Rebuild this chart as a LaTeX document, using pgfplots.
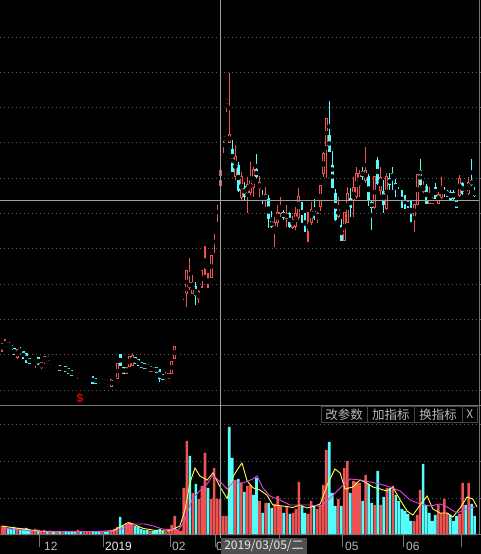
\documentclass[border=0pt]{standalone}
\usepackage{pgfplots}
\pgfplotsset{compat=1.18}
\usepackage{pgfplotstable}
\usepackage{fontspec}
\setmainfont{Liberation Sans}
\newfontfamily\cjk{Noto Sans CJK SC}

\definecolor{upred}{RGB}{238,82,82}
\definecolor{selred}{RGB}{210,95,95}
\definecolor{dncyan}{RGB}{84,252,252}
\definecolor{dojiw}{RGB}{225,225,225}
\definecolor{gridc}{RGB}{95,95,95}
\definecolor{linec}{RGB}{115,115,115}
\definecolor{crossc}{RGB}{160,160,160}
\definecolor{maA}{RGB}{255,255,70}
\definecolor{maB}{RGB}{225,70,225}
\definecolor{txtc}{RGB}{185,185,185}
\definecolor{btnb}{RGB}{72,72,72}
\definecolor{datebox}{RGB}{80,80,80}

\pgfplotsset{
  ebar/.style 2 args={only marks, mark=none, forget plot,
    error bars/y dir=both, error bars/y explicit, error bars/error mark=none,
    error bars/error bar style={line width=#2, draw=#1, solid}},
}

% candles: index, open, high, low, close
\pgfplotstableread{
i o h l c
0 58 63 54 62
1 60 67 59 63
5 49 57 47 56
10 45 47 44 46
11 44 47 38 46
13 39 44 37 43
14 45 49 42 49
16 42 46 41 45
20 37 39 35 38
25 29 33 27 32
27 28 32 27 31
33 23 27 22 25
36 20 27 19 26
37 27 31 26 29
38 28 43 27 42
41 33 39 32 38
42 40 50 39 49
43 41 53 40 50
49 35 40 34 39
54 27 34 26 30
55 28 33 27 32
56 33 45 32 44
57 48 59 47 59
58 76 76 76 76
59 94 94 94 94
60 110 113 106 113
61 113 135 99 135
62 119 148 116 123
63 113 131 112 123
65 108 116 103 114
66 120 136 118 135
67 137 160 131 144
68 122 133 118 127
69 129 151 128 150
70 174 175 153 175
71 203 204 184 204
73 266 269 253 269
74 303 306 294 306
75 264 333 263 271
77 230 261 226 249
79 209 234 206 229
81 213 229 193 221
82 214 244 211 226
83 219 239 209 236
85 218 230 209 223
87 206 219 199 211
90 173 189 159 183
91 184 201 179 193
92 193 209 189 199
94 188 201 179 192
96 179 190 177 186
97 180 199 176 192
98 189 218 186 209
101 175 194 164 184
102 184 204 181 196
104 188 194 183 192
105 200 221 195 220
106 233 254 229 252
107 259 288 228 287
111 190 209 188 197
113 166 193 166 193
114 184 219 183 212
116 206 229 189 218
117 210 239 207 232
118 221 236 209 232
120 226 259 223 235
123 199 230 197 229
125 216 239 211 228
127 198 233 196 229
136 190 202 174 201
137 202 231 201 231
139 215 225 213 219
141 203 219 202 211
142 203 209 202 207
144 203 214 202 211
145 209 229 207 219
151 211 231 209 227
154 213 229 211 223
}\upk

\pgfplotstableread{
i o h l c
2 63 64 59 60
3 60 61 56 57
4 57 58 51 52
6 56 59 52 53
7 54 55 47 48
8 52 53 43 44
9 47 48 42 43
12 48 49 41 42
15 49 50 45 46
17 43 44 40 41
19 40 41 35 36
21 39 40 34 35
22 37 38 32 33
23 35 36 30 31
24 33 34 30 31
26 31 32 28 29
30 29 30 22 23
31 27 28 22 23
32 26 27 22 23
34 26 27 22 23
35 24 25 20 21
39 51 51 40 41
40 38 39 32 33
44 48 49 42 43
45 46 47 40 41
46 43 44 38 39
47 42 43 37 38
48 41 42 37 38
50 38 39 34 35
51 38 39 33 34
52 36 37 24 28
53 31 32 26 27
64 119 124 101 111
76 256 266 234 235
78 240 244 214 216
80 219 224 206 210
84 236 252 228 230
86 209 216 202 206
88 207 211 178 188
89 184 195 178 180
93 193 196 186 189
95 192 194 178 180
99 199 204 183 188
100 189 193 174 176
103 196 207 186 189
108 270 305 254 255
109 240 255 218 219
110 212 217 185 187
112 180 187 166 166
115 207 218 189 199
119 234 239 226 230
121 229 232 200 206
122 203 205 176 199
124 245 249 221 223
126 214 226 193 202
128 227 233 216 222
129 232 239 216 229
130 222 227 209 218
131 213 219 211 211
132 212 216 198 202
133 209 211 197 199
134 204 206 198 200
135 203 205 184 189
138 235 247 220 222
140 219 222 202 203
143 218 223 207 208
147 214 216 209 210
148 213 216 206 207
149 213 216 206 208
150 204 206 198 199
152 222 224 211 213
155 225 247 220 222
156 214 219 209 211
}\dnk

\pgfplotstableread{
i o h l c
18 42 43 39 42
28 29 31 28 29
29 30 31 28 30
146 214 219 209 214
153 213 216 211 213
}\dojik

\pgfplotstableread{
i o h l c
72 221 236 220 235
}\selk

% volume
\pgfplotstableread{
i v
0 9
1 8
5 7
10 4
11 6
13 4
14 5
16 4
18 3
20 3
25 5
27 3
28 3
29 3
33 3
36 5
37 6
38 8
41 11
42 13
43 12
49 4
54 3
55 6
56 10
57 19
58 5
59 4
60 47
61 94
63 42
65 36
66 49
67 82
69 36
70 67
71 36
72 36
73 19
74 19
77 55
79 52
81 49
82 50
85 34
87 32
90 31
91 39
92 29
94 29
96 22
97 26
98 53
101 21
102 34
104 26
105 30
106 50
107 85
111 36
113 67
114 74
116 54
117 53
118 52
120 60
123 30
125 30
127 47
129 49
136 14
137 20
138 45
144 30
145 22
146 36
147 22
151 21
152 52
154 52
}\volup

\pgfplotstableread{
i v
2 7
3 6
4 8
6 5
7 6
8 7
9 5
12 5
15 3
17 3
19 4
21 4
22 3
23 4
24 3
26 4
30 4
31 3
32 4
34 4
35 4
39 18
40 9
44 9
45 8
46 6
47 5
48 5
50 4
51 5
52 6
53 4
62 79
64 51
68 47
75 108
76 77
78 56
80 43
83 40
84 57
86 22
88 32
89 27
93 22
95 21
99 29
100 22
103 29
108 93
109 42
110 29
112 29
115 42
119 34
121 51
122 32
124 64
126 38
128 47
130 40
131 34
132 26
133 24
134 21
135 14
139 71
140 30
141 22
142 14
143 20
148 20
149 14
150 19
153 30
155 31
156 19
}\voldn

\begin{document}
\begin{tikzpicture}[x=1pt,y=1pt]
\fill[black] (0,0) rectangle (481,554);

% ---------------- price panel ----------------
\begin{axis}[
  at={(0,148)}, anchor=south west,
  width=481pt, height=406pt, scale only axis,
  xmin=-0.66, xmax=158.09, ymin=0, ymax=406,
  axis line style={draw=none},
  xtick=\empty,
  ytick={16,51.3,86.6,121.9,157.2,192.5,227.8,263.1,298.4,333.7,369},
  yticklabels={}, ytick style={draw=none},
  ymajorgrids, major grid style={gridc, dash pattern=on 1pt off 3pt, line width=0.9pt},
]
% wicks
\addplot[ebar={upred}{1.1pt}] table[x=i, y expr={(\thisrow{h}+\thisrow{l})/2}, y error expr={(\thisrow{h}-\thisrow{l})/2+0.3}] {\upk};
\addplot[ebar={upred}{1.1pt}] table[x=i, y expr={(\thisrow{h}+\thisrow{l})/2}, y error expr={(\thisrow{h}-\thisrow{l})/2+0.3}] {\selk};
\addplot[ebar={dncyan}{1.1pt}] table[x=i, y expr={(\thisrow{h}+\thisrow{l})/2}, y error expr={(\thisrow{h}-\thisrow{l})/2+0.3}] {\dnk};
\addplot[ebar={dojiw}{1.1pt}] table[x=i, y expr={(\thisrow{h}+\thisrow{l})/2}, y error expr={(\thisrow{h}-\thisrow{l})/2+0.3}] {\dojik};
% bodies
\addplot[ebar={dncyan}{2.9pt}] table[x=i, y expr={(\thisrow{o}+\thisrow{c})/2}, y error expr={abs(\thisrow{c}-\thisrow{o})/2+0.6}] {\dnk};
\addplot[ebar={dojiw}{2.9pt}] table[x=i, y expr={(\thisrow{o}+\thisrow{c})/2}, y error expr={0.6}] {\dojik};
\addplot[ebar={upred}{2.9pt}] table[x=i, y expr={(\thisrow{o}+\thisrow{c})/2}, y error expr={abs(\thisrow{c}-\thisrow{o})/2+0.6}] {\upk};
\addplot[ebar={black}{1.0pt}] table[x=i, y expr={(\thisrow{o}+\thisrow{c})/2}, y error expr={max(abs(\thisrow{c}-\thisrow{o})/2-0.4,0)}] {\upk};
\addplot[ebar={selred}{2.9pt}] table[x=i, y expr={(\thisrow{o}+\thisrow{c})/2}, y error expr={abs(\thisrow{c}-\thisrow{o})/2+0.6}] {\selk};
\end{axis}

% ---------------- volume panel ----------------
\begin{axis}[
  at={(0,19)}, anchor=south west,
  width=481pt, height=129pt, scale only axis,
  xmin=-0.66, xmax=158.09, ymin=0, ymax=129,
  axis line style={draw=none},
  xtick={12.5,33.5,55.5,70.5,91.5,112.5,132.5,151.5}, xticklabels={},
  xtick pos=left, tick align=outside, major tick length=12pt,
  xtick style={draw=linec, line width=1pt},
  ytick={37,74,111}, yticklabels={}, ytick style={draw=none},
  ymajorgrids, major grid style={gridc, dash pattern=on 1pt off 3pt, line width=0.9pt},
]
\addplot[ybar, bar width=2.6pt, bar shift=0pt, fill=upred, draw=none, forget plot] table[x=i, y=v] {\volup};
\addplot[ybar, bar width=2.6pt, bar shift=0pt, fill=dncyan, draw=none, forget plot] table[x=i, y=v] {\voldn};
% MA5 of volume
\addplot[maA, line width=0.9pt, mark=none] coordinates {
(0,9) (3.6,7.3) (8.3,5.7) (12.5,3.5) (21.5,3.5) (32,3.5) (36.6,4) (39,8.3) (41.6,12.3) (44,10) (46.5,6.7) (51,4.3) (54.5,4) (56.4,5.7) (58.7,9) (60.4,25) (62,52) (63.7,67) (65.3,59) (67.7,55) (69.6,62) (72,48) (74.3,36.5) (76.2,58) (77.6,65) (79.2,72) (80.9,54) (82.9,47) (85.1,45) (87.4,40) (89.4,30) (92.7,29) (96,27.5) (98.3,30) (100.6,27) (102.6,28.5) (105,31) (107.6,52) (109.9,66) (111.6,62) (113.2,46) (115.8,48) (118.2,55) (120.4,52) (122.4,48) (124.8,46) (127,44) (129,48) (131.4,35) (133.7,24) (135.6,20) (138,30) (140.3,39) (142.2,26) (144.6,22) (146.9,22) (148.8,18) (151.2,27) (153.5,38) (155.4,36) (156.8,28)
};
% MA10 of volume
\addplot[maB, line width=0.9pt, mark=none] coordinates {
(0,7) (10,4) (20,3.5) (36,3.5) (38,4.5) (41,8) (44,11) (47,11) (50,9) (53,6) (56.5,5) (58.5,6) (60.5,15) (61,22) (63,37) (65.3,44) (67.7,51) (69.6,60) (72,53) (74.3,46) (76.2,53) (79.5,52) (82.8,56) (84.2,59) (86.1,47) (88.4,39) (91.7,35) (95,30) (98.3,30) (101.6,30) (105,28.5) (108.3,37) (111.6,47) (114.9,56) (118.2,55) (121.5,53) (124.8,51) (128,48) (131.4,44) (134.7,35) (138,31) (141.3,29) (144.6,31) (146.9,28) (150.2,22) (153.5,26.5) (156.1,28)
};
\end{axis}

% ---------------- frame, crosshair, labels ----------------
\draw[linec, line width=1pt] (0,148) -- (481,148);
\draw[linec, line width=1pt] (0,19) -- (481,19);
\draw[linec, line width=1pt] (479.5,19) -- (479.5,554);
\draw[crossc, line width=1pt] (220.5,16) -- (220.5,554);
\draw[crossc, line width=1pt] (0,353) -- (479,353);

\node[text=red!88!black, font=\bfseries\fontsize{12}{12}\selectfont, inner sep=0pt] at (80,156) {\$};

% date axis labels
\begin{scope}[every node/.style={anchor=west, inner sep=0pt, font=\fontsize{12}{12}\selectfont}]
\node[text=txtc] at (44,8) {12};
\node[text=white!92!black] at (105,8) {2019};
\node[text=txtc] at (172,8) {02};
\node[text=txtc] at (216,8) {03};
\node[text=txtc] at (345,8) {05};
\node[text=txtc] at (406,8) {06};
\end{scope}

% crosshair date box
\fill[datebox] (221,0) rectangle (307,16);
\node[text=white!92!black, font={\cjk\fontsize{12}{12}\selectfont}, inner sep=0pt] at (264,8) {2019/03/05/二};

% indicator buttons
\draw[btnb, fill=black, line width=1pt] (321.5,131.5) rectangle (367,147.5);
\draw[btnb, fill=black, line width=1pt] (367.5,131.5) rectangle (414,147.5);
\draw[btnb, fill=black, line width=1pt] (414.5,131.5) rectangle (462,147.5);
\draw[btnb, fill=black, line width=1pt] (462.5,131.5) rectangle (477,147.5);
\node[text=txtc, font={\cjk\fontsize{12.5}{13}\selectfont}, inner sep=0pt] at (344.2,139.5) {改参数};
\node[text=txtc, font={\cjk\fontsize{12.5}{13}\selectfont}, inner sep=0pt] at (390.8,139.5) {加指标};
\node[text=txtc, font={\cjk\fontsize{12.5}{13}\selectfont}, inner sep=0pt] at (438.2,139.5) {换指标};
\node[text=txtc, font={\cjk\fontsize{12}{12}\selectfont}, inner sep=0pt] at (469.8,139.5) {X};

\pgfresetboundingbox
\path[use as bounding box] (0,0) rectangle (481,554);
\end{tikzpicture}
\end{document}
